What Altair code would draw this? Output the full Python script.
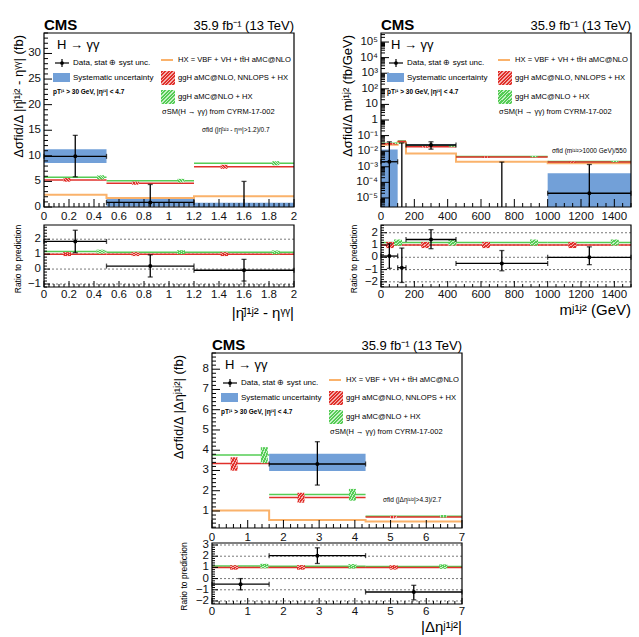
import altair as alt
import pandas as pd

FONT = "Liberation Sans"
RED = "#e0302b"
RED_LIGHT = "#f4b0ad"
GREEN = "#55cc55"
GREEN_LIGHT = "#c8f0c8"
ORANGE = "#fab26b"
BLUE = "#72a0d8"

# ---------------- panel A : |eta_jj - eta_gg| ----------------
A_bin_lo = [0.0, 0.5, 1.2]
A_bin_hi = [0.5, 1.2, 2.0]
A_x = [0.25, 0.85, 1.6]
A_val = [9.9, 0.9, -0.6]
A_err_lo = [5.9, -2.6, -6.3]
A_err_hi = [14.0, 4.4, 5.0]
A_sys_lo = [8.6, 0.1, -2.0]
A_sys_hi = [11.3, 1.6, 0.85]
A_hx = [2.4, 1.75, 2.1]
A_red = [5.3, 4.65, 7.85]
A_green = [5.8, 5.15, 8.55]
A_red_x = [0.15, 0.72, 1.46]
A_red_lo = [4.95, 4.35, 7.45]
A_red_hi = [5.65, 4.95, 8.25]
A_green_x = [0.43, 1.10, 1.89]
A_green_lo = [5.4, 4.8, 8.15]
A_green_hi = [6.2, 5.5, 8.95]
A_r_val = [1.85, 0.2, -0.08]
A_r_lo = [1.1, -0.53, -0.8]
A_r_hi = [2.6, 0.95, 0.65]
A_r_green = [1.17, 1.13, 1.12]
A_r_unc = 0.13
A_xticks = [0, 0.2, 0.4, 0.6, 0.8, 1, 1.2, 1.4, 1.6, 1.8, 2]
A_yticks = [0, 5, 10, 15, 20, 25, 30]
A_rticks = [-1, 0, 1, 2]

# ---------------- panel B : m_jj ----------------
B_bin_lo = [0, 100, 150, 450, 1000]
B_bin_hi = [100, 150, 450, 1000, 1500]
B_x = [50, 125, 300, 725, 1250]
B_val = [2.1e-3, -3.5e-2, 2.5e-2, -2.0e-3, 2.0e-5]
B_err_lo = [-3.5e-2, -1.0e-1, 1.35e-2, -6.0e-3, -1.3e-3]
B_err_hi = [4.0e-2, 3.4e-2, 4.0e-2, 2.0e-3, 1.4e-3]
B_sys_lo = [-8.0e-3, -5.0e-2, 1.9e-2, -4.0e-3, -3.4e-4]
B_sys_hi = [1.3e-2, -2.0e-2, 2.8e-2, -1.0e-4, 3.8e-4]
B_hx = [2.6e-2, 3.8e-2, 7.0e-3, 2.1e-3, 1.7e-3]
B_red = [3.0e-2, 4.2e-2, 1.9e-2, 4.2e-3, 2.0e-3]
B_green = [3.2e-2, 4.5e-2, 2.1e-2, 4.5e-3, 2.15e-3]
B_red_x = [25, 245, 625, 1165]
B_red_lo = [2.7e-2, 1.7e-2, 3.8e-3, 1.85e-3]
B_red_hi = [3.3e-2, 2.1e-2, 4.6e-3, 2.15e-3]
B_green_x = [75, 415, 925, 1430]
B_green_lo = [2.9e-2, 1.9e-2, 4.1e-3, 1.98e-3]
B_green_hi = [3.5e-2, 2.3e-2, 4.9e-3, 2.35e-3]
B_r_val = [0.1, -0.85, 1.45, -0.5, 0.0]
B_r_lo = [-0.9, -2.05, 0.7, -1.1, -0.6]
B_r_hi = [1.1, 0.75, 2.25, 0.55, 0.85]
B_r_green = [1.2, 1.2, 1.2, 1.2, 1.2]
B_r_unc = 0.25
B_xticks = [0, 200, 400, 600, 800, 1000, 1200, 1400]
B_yticks = [1e-5, 1e-4, 1e-3, 1e-2, 1e-1, 1, 10, 1e2, 1e3, 1e4, 1e5]
B_ylabels = ["10⁻⁵", "10⁻⁴", "10⁻³", "10⁻²", "10⁻¹", "1", "10", "10²", "10³", "10⁴", "10⁵"]
B_rticks = [-2, -1, 0, 1, 2]

# ---------------- panel C : |Delta eta_jj| ----------------
C_bin_lo = [0.0, 1.6, 4.3]
C_bin_hi = [1.6, 4.3, 7.0]
C_x = [0.8, 2.95, 5.65]
C_val = [-1.65, 3.32, -0.85]
C_err_lo = [-3.3, 2.28, -1.35]
C_err_hi = [0.0, 4.42, -0.42]
C_sys_lo = [-2.2, 2.98, -1.1]
C_sys_hi = [-1.1, 3.82, -0.6]
C_hx = [1.03, 0.56, 0.48]
C_red = [3.34, 1.66, 0.70]
C_green = [3.77, 1.82, 0.74]
C_red_x = [0.5, 2.45, 5.15]
C_red_lo = [2.99, 1.41, 0.64]
C_red_hi = [3.65, 1.90, 0.76]
C_green_x = [1.38, 3.95, 6.6]
C_green_lo = [3.36, 1.51, 0.68]
C_green_hi = [4.15, 2.09, 0.80]
C_r_val = [-0.5, 2.05, -1.2]
C_r_lo = [-1.0, 1.35, -1.9]
C_r_hi = [0.0, 2.75, -0.6]
C_r_green = [1.12, 1.10, 1.07]
C_r_unc = 0.2
C_xticks = [0, 1, 2, 3, 4, 5, 6, 7]
C_yticks = [1, 2, 3, 4, 5, 6, 7, 8]
C_rticks = [-2, -1, 0, 1, 2, 3]

ONE = pd.DataFrame({"o": [0]})


def fmt(v):
    s = f"{v:g}"
    return s.replace("-", "−")


def hatch(color, light, n):
    stops = []
    for i in range(n):
        a, b, c = i / n, (i + 0.62) / n, (i + 1) / n
        stops += [{"offset": a, "color": color}, {"offset": b, "color": color},
                  {"offset": b, "color": light}, {"offset": c, "color": light}]
    return {"gradient": "linear", "x1": 0, "y1": 0, "x2": 1, "y2": 1, "stops": stops}


def minor(lo, hi, step, majors):
    n = int(round((hi - lo) / step))
    out = []
    for i in range(n + 1):
        v = round(lo + i * step, 6)
        if lo <= v <= hi and all(abs(v - m) > 1e-9 for m in majors):
            out.append(v)
    return out


def log_minor(lo, hi):
    out = []
    for e in range(-7, 7):
        for k in range(2, 10):
            v = k * 10.0 ** e
            if lo <= v <= hi:
                out.append(v)
    return out


def sc(dom, rng, log=False):
    if log:
        return alt.Scale(type="log", domain=dom, range=rng, nice=False, clamp=True)
    return alt.Scale(domain=dom, range=rng, nice=False, zero=False, clamp=True)


def qx(f, s):
    return alt.X(f, type="quantitative", scale=s, axis=None)


def qy(f, s):
    return alt.Y(f, type="quantitative", scale=s, axis=None)


def tmark(s, x, y, size, align="left", weight="normal", baseline="middle", angle=0):
    return alt.Chart(ONE).mark_text(text=s, fontSize=size, align=align, baseline=baseline,
                                    fontWeight=weight, font=FONT, color="black", angle=angle).encode(
        x=alt.value(x), y=alt.value(y))


def rect_px(x1, x2, y1, y2, fill):
    return alt.Chart(ONE).mark_rect(fill=fill).encode(
        x=alt.value(x1), x2=alt.value(x2), y=alt.value(y1), y2=alt.value(y2))


def rule_px(x1, x2, y1, y2, color, w):
    return alt.Chart(ONE).mark_rule(color=color, strokeWidth=w).encode(
        x=alt.value(x1), x2=alt.value(x2), y=alt.value(y1), y2=alt.value(y2))


def data_layers(xs, ys, ydom, log, bin_lo, bin_hi, xc, val, elo, ehi):
    lo_lim, hi_lim = ydom
    floor = lo_lim / 10 if log else lo_lim - 1e6

    def fy(v):
        return floor if (log and v <= 0) else v

    def inside(v):
        return lo_lim <= v <= hi_lim and not (log and v <= 0)

    vrows, caps, hrows, hcaps = [], [], [], []
    for x, a, b, v, e0, e1 in zip(xc, bin_lo, bin_hi, val, elo, ehi):
        if e1 < lo_lim or (log and e1 <= 0):
            continue
        vrows.append({"x": x, "e0": fy(e0), "e1": e1})
        for e in (e0, e1):
            if inside(e):
                caps.append({"x": x, "y": e})
        if inside(v):
            hrows.append({"lo": a, "hi": b, "v": v, "x": x})
            hcaps.append({"x": a, "y": v})
            hcaps.append({"x": b, "y": v})
    L = []
    if vrows:
        L.append(alt.Chart(pd.DataFrame(vrows)).mark_rule(color="black", strokeWidth=1.3).encode(
            x=qx("x", xs), y=qy("e0", ys), y2=alt.Y2("e1")))
    if caps:
        L.append(alt.Chart(pd.DataFrame(caps)).mark_tick(orient="horizontal", size=5, thickness=1.3,
                                                         color="black").encode(
            x=qx("x", xs), y=qy("y", ys)))
    if hrows:
        L += [
            alt.Chart(pd.DataFrame(hrows)).mark_rule(color="black", strokeWidth=1.3).encode(
                x=qx("lo", xs), x2=alt.X2("hi"), y=qy("v", ys)),
            alt.Chart(pd.DataFrame(hcaps)).mark_tick(orient="vertical", size=5, thickness=1.3,
                                                     color="black").encode(
                x=qx("x", xs), y=qy("y", ys)),
            alt.Chart(pd.DataFrame(hrows)).mark_circle(size=16, color="black", opacity=1).encode(
                x=qx("x", xs), y=qy("v", ys)),
        ]
    return L


def tick_and_label_layers(xs, ys, xmaj, xmin, ymaj, ymin_, ylabs, x0, ybot, big, small, xlab_dy):
    return [
        alt.Chart(pd.DataFrame({"t": xmaj})).mark_rule(color="black", strokeWidth=1).encode(
            x=qx("t", xs), y=alt.value(ybot), y2=alt.value(ybot - big)),
        alt.Chart(pd.DataFrame({"t": xmin})).mark_rule(color="black", strokeWidth=1).encode(
            x=qx("t", xs), y=alt.value(ybot), y2=alt.value(ybot - small)),
        alt.Chart(pd.DataFrame({"t": ymaj})).mark_rule(color="black", strokeWidth=1).encode(
            y=qy("t", ys), x=alt.value(x0), x2=alt.value(x0 + big)),
        alt.Chart(pd.DataFrame({"t": ymin_})).mark_rule(color="black", strokeWidth=1).encode(
            y=qy("t", ys), x=alt.value(x0), x2=alt.value(x0 + small)),
        alt.Chart(pd.DataFrame({"t": xmaj, "lab": [fmt(v) for v in xmaj]})).mark_text(
            fontSize=11.5, font=FONT, baseline="top", align="center", color="#111").encode(
            x=qx("t", xs), y=alt.value(ybot + xlab_dy), text="lab:N"),
        alt.Chart(pd.DataFrame({"t": ymaj, "lab": ylabs})).mark_text(
            fontSize=11.5, font=FONT, baseline="middle", align="right", color="#111").encode(
            y=qy("t", ys), x=alt.value(x0 - 3), text="lab:N"),
    ]


def frame_layer(xs, ys, xdom, ydom):
    df = pd.DataFrame({"a": [xdom[0]], "b": [xdom[1]], "c": [ydom[0]], "d": [ydom[1]]})
    return alt.Chart(df).mark_rect(fillOpacity=0, stroke="black", strokeWidth=1.2).encode(
        x=qx("a", xs), x2=alt.X2("b"), y=qy("c", ys), y2=alt.Y2("d"))


def legend_layers(P, x0, y0):
    dx = P["legdx"]
    X = lambda v: x0 + v
    Y = lambda v: y0 + v
    return [
        tmark("CMS", X(0), Y(-3), 15, weight="bold", baseline="alphabetic"),
        tmark("35.9 fb⁻¹ (13 TeV)", X(250), Y(-3), 13, align="right", baseline="alphabetic"),
        tmark("H → γγ", X(13 + dx), Y(12), 13),
        rule_px(X(11 + dx), X(25 + dx), Y(30), Y(30), "black", 1.2),
        rule_px(X(18 + dx), X(18 + dx), Y(26), Y(34), "black", 1.2),
        alt.Chart(ONE).mark_circle(size=14, color="black", opacity=1).encode(
            x=alt.value(X(18 + dx)), y=alt.value(Y(30))),
        tmark("Data, stat ⊕ syst unc.", X(29 + dx), Y(30), 8),
        rect_px(X(9 + dx), X(26 + dx), Y(40), Y(49), BLUE),
        tmark("Systematic uncertainty", X(29 + dx), Y(44.5), 8),
        tmark("pTʲ¹ > 30 GeV, |ηʲ¹| < 4.7", X(9 + dx), Y(59), 6.5, weight="bold"),
        rule_px(X(117), X(129), Y(27), Y(27), ORANGE, 2),
        tmark("HX = VBF + VH + tt̄H aMC@NLO", X(134), Y(27), 7.6),
        rect_px(X(117), X(131), Y(38), Y(52), hatch(RED, RED_LIGHT, 8)),
        tmark("ggH aMC@NLO, NNLOPS + HX", X(134), Y(45), 7.6),
        rect_px(X(117), X(131), Y(57), Y(71), hatch(GREEN, GREEN_LIGHT, 8)),
        tmark("ggH aMC@NLO + HX", X(134), Y(64), 7.6),
        tmark("σSM(H → γγ) from CYRM-17-002", X(118), Y(79), 7.5),
        tmark(P["note"], X(P["note_x"]), Y(P["note_y"]), 6.5),
    ]


def panel_layers(P):
    x0, x1, my0, my1, ry0, ry1 = P["geo"]
    log = P["log"]
    xs = sc(P["xdom"], [x0, x1])
    ys = sc(P["ydom"], [my1, my0], log)
    rs = sc(P["rdom"], [ry1, ry0])
    ylo = P["ydom"][0]
    floor = ylo / 10 if log else ylo - 1e6

    def fy(v):
        return floor if (log and v <= 0) else v

    L = []
    # ---------------- main panel ----------------
    sys_rows = [{"lo": a, "hi": b, "s0": fy(c), "s1": d}
                for a, b, c, d in zip(P["bin_lo"], P["bin_hi"], P["sys_lo"], P["sys_hi"])
                if d > ylo]
    if sys_rows:
        L.append(alt.Chart(pd.DataFrame(sys_rows)).mark_rect(color=BLUE, opacity=1).encode(
            x=qx("lo", xs), x2=alt.X2("hi"), y=qy("s0", ys), y2=alt.Y2("s1")))
    hx = pd.DataFrame({"x": list(P["bin_lo"]) + [P["bin_hi"][-1]],
                       "y": list(P["hx"]) + [P["hx"][-1]]})
    L.append(alt.Chart(hx).mark_line(color=ORANGE, strokeWidth=2, interpolate="step-after").encode(
        x=qx("x", xs), y=qy("y", ys)))
    th = pd.DataFrame({"lo": P["bin_lo"], "hi": P["bin_hi"], "red": P["red"], "green": P["green"]})
    L.append(alt.Chart(th).mark_rule(color=GREEN, strokeWidth=1.5).encode(
        x=qx("lo", xs), x2=alt.X2("hi"), y=qy("green", ys)))
    L.append(alt.Chart(th).mark_rule(color=RED, strokeWidth=1.5).encode(
        x=qx("lo", xs), x2=alt.X2("hi"), y=qy("red", ys)))
    rb = pd.DataFrame({"x": P["red_x"], "lo": P["red_lo"], "hi": P["red_hi"]})
    gb = pd.DataFrame({"x": P["green_x"], "lo": P["green_lo"], "hi": P["green_hi"]})
    L.append(alt.Chart(rb).mark_bar(width=7, fill=hatch(RED, RED_LIGHT, 5)).encode(
        x=qx("x", xs), y=qy("lo", ys), y2=alt.Y2("hi")))
    L.append(alt.Chart(gb).mark_bar(width=7, fill=hatch(GREEN, GREEN_LIGHT, 5)).encode(
        x=qx("x", xs), y=qy("lo", ys), y2=alt.Y2("hi")))
    L += data_layers(xs, ys, P["ydom"], log, P["bin_lo"], P["bin_hi"], P["x"], P["val"],
                     P["err_lo"], P["err_hi"])
    xmin = minor(P["xdom"][0], P["xdom"][1], P["xminor"], P["xticks"])
    if log:
        ymin_ = log_minor(P["ydom"][0], P["ydom"][1])
    else:
        ymin_ = minor(P["yminor"][0], P["yminor"][1], P["yminor"][2], P["yticks"])
    L += tick_and_label_layers(xs, ys, P["xticks"], xmin, P["yticks"], ymin_,
                               P["ylabels"], x0, my1, 8, 4, 4)
    L.append(frame_layer(xs, ys, P["xdom"], P["ydom"]))
    L += legend_layers(P, x0, my0)
    L.append(tmark(P["ytitle"], P["yt_x"], my0 + 2, 13, align="right", baseline="alphabetic",
                   angle=270))

    # ---------------- ratio panel ----------------
    grid = [v for v in P["rticks"] if P["rdom"][0] < v < P["rdom"][1]]
    gdf = pd.DataFrame({"t": grid, "a": [P["xdom"][0]] * len(grid), "b": [P["xdom"][1]] * len(grid)})
    L.append(alt.Chart(gdf).mark_rule(color="#555", strokeWidth=0.8, strokeDash=[2, 2]).encode(
        x=qx("a", xs), x2=alt.X2("b"), y=qy("t", rs)))
    n = len(P["bin_lo"])
    rth = pd.DataFrame({"lo": P["bin_lo"], "hi": P["bin_hi"], "one": [1.0] * n, "g": P["r_green"]})
    L.append(alt.Chart(rth).mark_rule(color=GREEN, strokeWidth=1.5).encode(
        x=qx("lo", xs), x2=alt.X2("hi"), y=qy("g", rs)))
    L.append(alt.Chart(rth).mark_rule(color=RED, strokeWidth=1.5).encode(
        x=qx("lo", xs), x2=alt.X2("hi"), y=qy("one", rs)))

    def green_at(x):
        for a, b, g in zip(P["bin_lo"], P["bin_hi"], P["r_green"]):
            if a <= x <= b:
                return g
        return 1.0

    u = P["r_unc"]
    rrb = pd.DataFrame({"x": P["red_x"], "lo": [1.0 - u] * len(P["red_x"]),
                        "hi": [1.0 + u] * len(P["red_x"])})
    rgb = pd.DataFrame({"x": P["green_x"], "lo": [green_at(x) - u for x in P["green_x"]],
                        "hi": [green_at(x) + u for x in P["green_x"]]})
    L.append(alt.Chart(rrb).mark_bar(width=8, fill=hatch(RED, RED_LIGHT, 4)).encode(
        x=qx("x", xs), y=qy("lo", rs), y2=alt.Y2("hi")))
    L.append(alt.Chart(rgb).mark_bar(width=8, fill=hatch(GREEN, GREEN_LIGHT, 4)).encode(
        x=qx("x", xs), y=qy("lo", rs), y2=alt.Y2("hi")))
    L += data_layers(xs, rs, P["rdom"], False, P["bin_lo"], P["bin_hi"], P["x"], P["r_val"],
                     P["r_lo"], P["r_hi"])
    rmin = minor(round(P["rticks"][0] - 1, 0), P["rticks"][-1] + 1, 0.2, P["rticks"])
    rmin = [v for v in rmin if P["rdom"][0] <= v <= P["rdom"][1]]
    L += tick_and_label_layers(xs, rs, P["xticks"], xmin, P["rticks"], rmin,
                               [fmt(v) for v in P["rticks"]], x0, ry1, 6, 3, 2)
    L.append(frame_layer(xs, rs, P["xdom"], P["rdom"]))
    L.append(tmark("Ratio to prediction", P["ryt_x"], (ry0 + ry1) / 2 + 3, 8.5, align="center",
                   baseline="alphabetic", angle=270))
    L.append(tmark(P["xtitle"], x1, P["xt_y"], 15, align="right", baseline="alphabetic"))
    return L


PA = dict(geo=(44, 294, 33, 207, 225, 287),
          xdom=[0, 2], ydom=[0, 34], log=False, xticks=A_xticks, xminor=0.04, yticks=A_yticks,
          ylabels=[fmt(v) for v in A_yticks], yminor=(0, 34, 1), rdom=[-1.2, 2.95], rticks=A_rticks,
          bin_lo=A_bin_lo, bin_hi=A_bin_hi, x=A_x, val=A_val, err_lo=A_err_lo, err_hi=A_err_hi,
          sys_lo=A_sys_lo, sys_hi=A_sys_hi, hx=A_hx, red=A_red, green=A_green,
          red_x=A_red_x, red_lo=A_red_lo, red_hi=A_red_hi,
          green_x=A_green_x, green_lo=A_green_lo, green_hi=A_green_hi,
          r_val=A_r_val, r_lo=A_r_lo, r_hi=A_r_hi, r_green=A_r_green, r_unc=A_r_unc,
          ytitle="Δσfid/Δ |η̄ʲ¹ʲ² - ηᵞᵞ| (fb)", yt_x=23, ryt_x=21, xtitle="|η̄ʲ¹ʲ² - ηᵞᵞ|", xt_y=318,
          note="σfid (|η̄ʲ¹ʲ² - ηᵞᵞ|>1.2)/0.7", note_x=158, note_y=97, legdx=0)

PB = dict(geo=(381, 631, 33, 207, 225, 287),
          xdom=[0, 1500], ydom=[10 ** -5.58, 10 ** 5.58], log=True, xticks=B_xticks, xminor=50,
          yticks=B_yticks, ylabels=B_ylabels, rdom=[-2.42, 2.63], rticks=B_rticks,
          bin_lo=B_bin_lo, bin_hi=B_bin_hi, x=B_x, val=B_val, err_lo=B_err_lo, err_hi=B_err_hi,
          sys_lo=B_sys_lo, sys_hi=B_sys_hi, hx=B_hx, red=B_red, green=B_green,
          red_x=B_red_x, red_lo=B_red_lo, red_hi=B_red_hi,
          green_x=B_green_x, green_lo=B_green_lo, green_hi=B_green_hi,
          r_val=B_r_val, r_lo=B_r_lo, r_hi=B_r_hi, r_green=B_r_green, r_unc=B_r_unc,
          ytitle="Δσfid/Δ mʲ¹ʲ² (fb/GeV)", yt_x=352, ryt_x=357, xtitle="mʲ¹ʲ² (GeV)", xt_y=315,
          note="σfid (mʲ¹ʲ²>1000 GeV)/550", note_x=171, note_y=118, legdx=-3)

PC = dict(geo=(212, 462, 353, 528, 543, 604),
          xdom=[0, 7], ydom=[0.16, 8.8], log=False, xticks=C_xticks, xminor=0.2, yticks=C_yticks,
          ylabels=[fmt(v) for v in C_yticks], yminor=(0.2, 8.8, 0.2), rdom=[-2.27, 3.18],
          rticks=C_rticks,
          bin_lo=C_bin_lo, bin_hi=C_bin_hi, x=C_x, val=C_val, err_lo=C_err_lo, err_hi=C_err_hi,
          sys_lo=C_sys_lo, sys_hi=C_sys_hi, hx=C_hx, red=C_red, green=C_green,
          red_x=C_red_x, red_lo=C_red_lo, red_hi=C_red_hi,
          green_x=C_green_x, green_lo=C_green_lo, green_hi=C_green_hi,
          r_val=C_r_val, r_lo=C_r_lo, r_hi=C_r_hi, r_green=C_r_green, r_unc=C_r_unc,
          ytitle="Δσfid/Δ |Δηʲ¹ʲ²| (fb)", yt_x=183, ryt_x=187, xtitle="|Δηʲ¹ʲ²|", xt_y=632,
          note="σfid (|Δηʲ¹ʲ²|>4.3)/2.7", note_x=171, note_y=147, legdx=0)

layers = panel_layers(PA) + panel_layers(PB) + panel_layers(PC)

chart = alt.layer(*layers).resolve_scale(x="independent", y="independent").properties(
    width=639, height=637, autosize=alt.AutoSizeParams(type="none"), padding=0
).configure_view(strokeOpacity=0)

chart.save("out.html", embed_options={"renderer": "svg", "actions": False})
